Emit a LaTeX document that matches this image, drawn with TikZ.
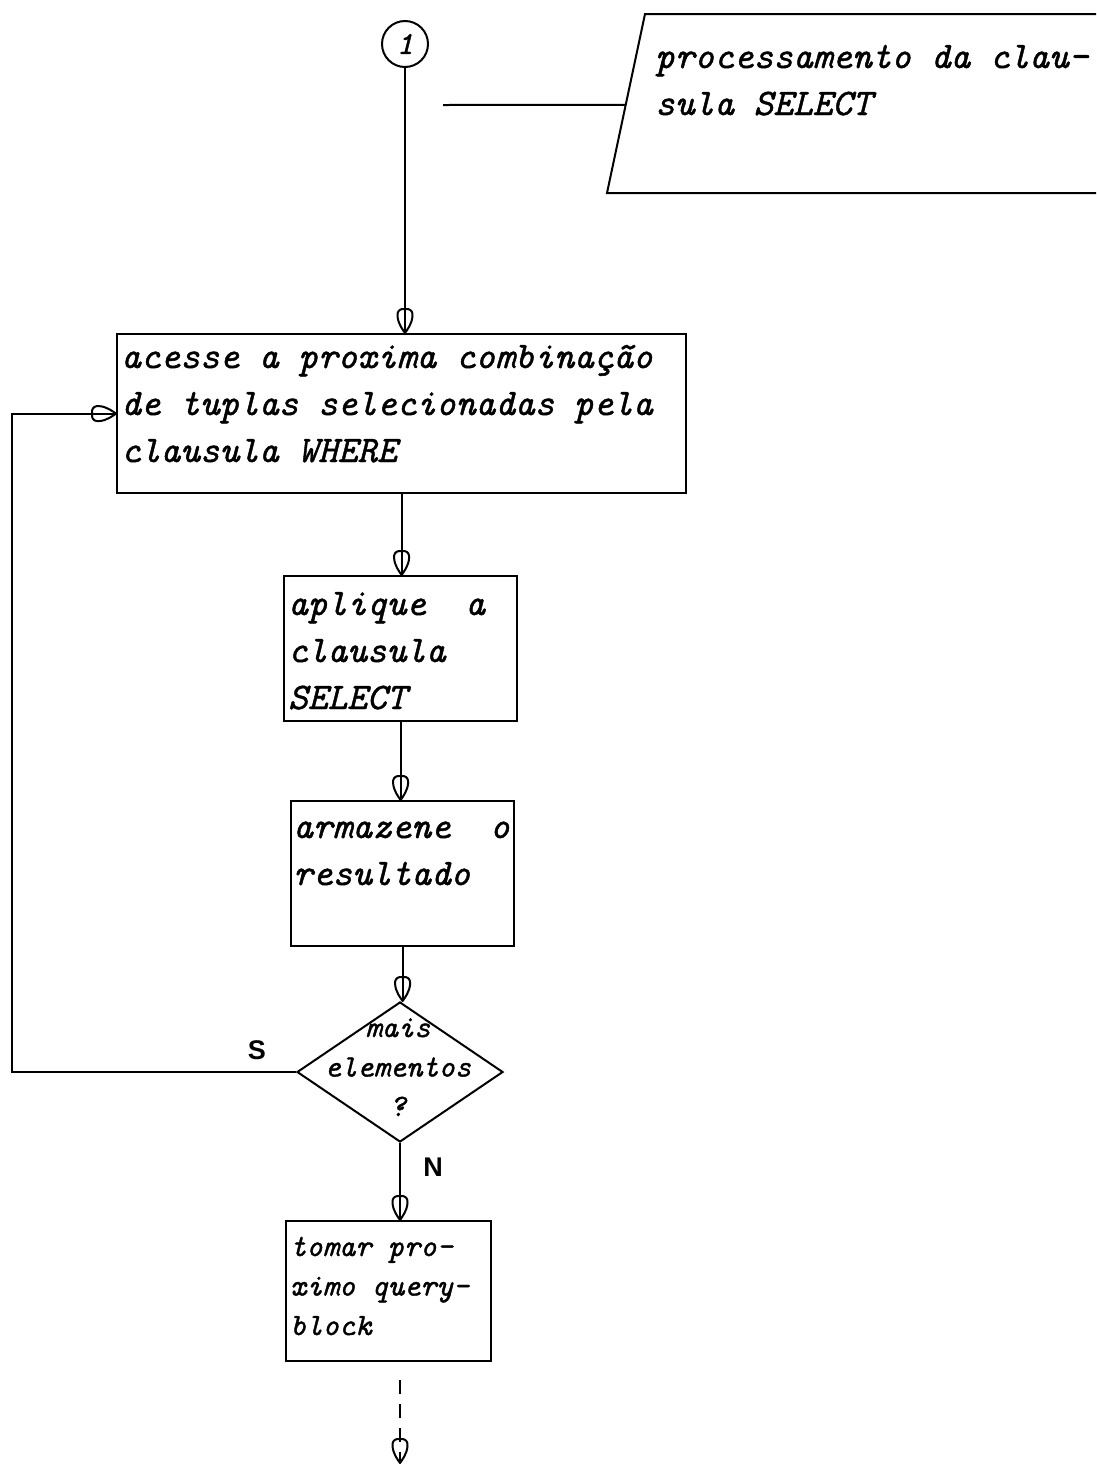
\documentclass[tikz,border=0pt]{standalone}
\usepackage{fontspec}
\usetikzlibrary{calc,shapes.geometric}

% typewriter italic, slightly emboldened like ink on paper
\newfontfamily\typewr{lmmono10-italic}[Extension=.otf, FakeBold=1.2]
\newfontfamily\labelsans{Liberation Sans}

% hollow shield-shaped arrow head, the line runs through it
\pgfdeclarearrow{
  name = Shield,
  setup code = {
    \pgfarrowssettipend{0pt}
    \pgfarrowssetlineend{-2pt}
    \pgfarrowssetvisualbackend{-24pt}
    \pgfarrowssetbackend{-24pt}
    \pgfarrowsupperhullpoint{-24pt}{7.5pt}
    \pgfarrowsupperhullpoint{0pt}{0pt}
  },
  drawing code = {
    \pgfsetdash{}{0pt}
    \pgfsetroundjoin
    \pgfpathmoveto{\pgfqpoint{0pt}{0pt}}
    \pgfpathcurveto{\pgfqpoint{-3pt}{2pt}}{\pgfqpoint{-9pt}{7pt}}{\pgfqpoint{-17pt}{7.5pt}}
    \pgfpathcurveto{\pgfqpoint{-21pt}{7.7pt}}{\pgfqpoint{-23pt}{6.5pt}}{\pgfqpoint{-24pt}{3pt}}
    \pgfpathlineto{\pgfqpoint{-24pt}{-3pt}}
    \pgfpathcurveto{\pgfqpoint{-23pt}{-6.5pt}}{\pgfqpoint{-21pt}{-7.7pt}}{\pgfqpoint{-17pt}{-7.5pt}}
    \pgfpathcurveto{\pgfqpoint{-9pt}{-7pt}}{\pgfqpoint{-3pt}{-2pt}}{\pgfqpoint{0pt}{0pt}}
    \pgfpathclose
    \pgfusepathqstroke
  }
}

% stacked lines: first line's baseline is the box baseline
\newcommand\typelines[1]{\vtop{\let\\\cr\halign{##\hfil\cr#1\crcr}}}
\newcommand\typecentred[1]{\vtop{\let\\\cr\halign{\hfil##\hfil\cr#1\crcr}}}

\tikzset{
  box/.style={draw, line width=2.2pt, inner sep=0pt, anchor=north west},
  bigtype/.style={font=\typewr\fontsize{37.5}{47}\selectfont, inner sep=0pt, anchor=base west},
  smalltype/.style={font=\typewr\fontsize{31}{39.5}\selectfont, inner sep=0pt, anchor=base west},
  flow/.style={line width=2pt, -Shield},
  plain/.style={line width=2pt},
  yn/.style={font=\labelsans\bfseries\fontsize{27}{30}\selectfont, inner sep=0pt}
}

\begin{document}
\begin{tikzpicture}[x=1pt,y=-1pt]
\useasboundingbox (0,0) rectangle (1096,1467);
\fill[white] (0,0) rectangle (1096,1467);

% connector circle
\node[circle, draw, line width=2pt, minimum size=46, inner sep=0pt,
      font=\typewr\fontsize{32}{32}\selectfont] (c1) at (405,44) {1};

% comment flag
\coordinate (pt) at (645,14);
\coordinate (pb) at (607,193);
\draw[plain] (1096,14) -- (pt) -- (pb) -- (1096,193);
\coordinate (pj) at ($(pt)!0.508!(pb)$);
\coordinate (ls) at (443,105);
\draw[plain] (ls) -- (pj);
\node[bigtype] (note) at (655,68) {\typelines{processamento da clau-\\sula SELECT}};

% process boxes
\node[box, minimum width=569, minimum height=159] (b1) at (116,333) {};
\node[bigtype] (t1) at ([shift={(5,35)}]b1.north west)
  {\typelines{acesse a proxima combinação\\de tuplas selecionadas pela\\clausula WHERE}};

\node[box, minimum width=233, minimum height=145] (b2) at (283,575) {};
\node[bigtype] (t2) at ([shift={(5,40)}]b2.north west)
  {\typelines{aplique\ \ a\\clausula\\SELECT}};

\node[box, minimum width=223, minimum height=145] (b3) at (290,800) {};
\node[bigtype] (t3) at ([shift={(3,38)}]b3.north west)
  {\typelines{armazene\ \ o\\resultado}};

% decision
\node[draw, diamond, line width=2pt, inner sep=0pt, minimum width=206, minimum height=140] (d) at (400,1072) {};
\node[smalltype, anchor=base] (dt) at (398,1037) {\typecentred{mais\\elementos\\?}};

\node[box, minimum width=205, minimum height=140] (b4) at (285,1220) {};
\node[smalltype] (t4) at ([shift={(5,36)}]b4.north west)
  {\typelines{tomar pro-\\ximo query-\\block}};

% branch labels
\node[yn] (s) at (257,1050) {S};
\node[yn] (n) at (433,1167) {N};

% flow
\draw[flow] (c1.south) -- (c1.south |- b1.north);
\draw[flow] (b1.south) -- (b1.south |- b2.north);
\draw[flow] (b2.south) -- (b2.south |- b3.north);
\draw[flow] (b3.south) -- (b3.south |- d.north);
\draw[flow] (d.south) -- (d.south |- b4.north);
\coordinate (lc) at (12,1072);
\draw[flow] (d.west) -- (lc) |- (b1.west);
\coordinate (endpt) at (400,1463);
\draw[flow, dash pattern=on 14pt off 10pt, shorten <=18pt] (d.south |- b4.south) -- (endpt);
\end{tikzpicture}
\end{document}
